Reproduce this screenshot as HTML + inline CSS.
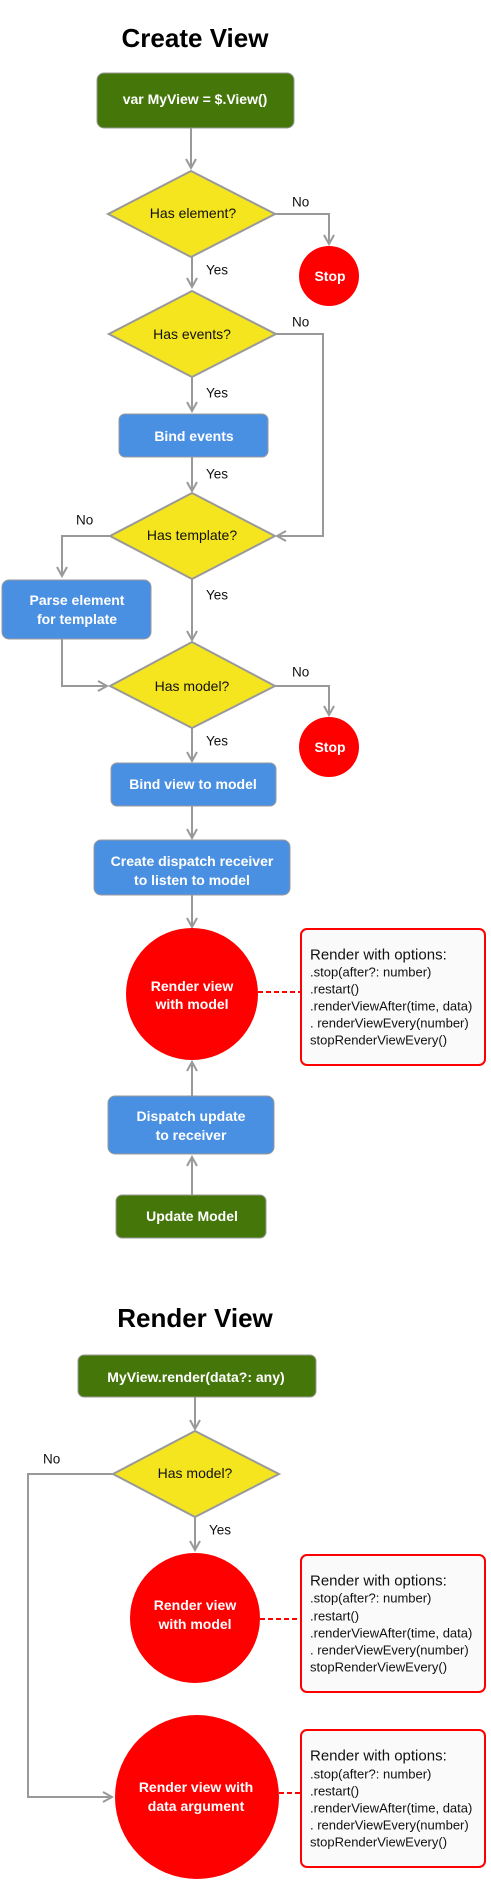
<!DOCTYPE html>
<html><head><meta charset="utf-8"><style>
html,body{margin:0;padding:0;background:#fff;}
svg{display:block;}
text{font-family:"Liberation Sans",sans-serif;}
.n{fill:#fff;font-weight:bold;font-size:14px;text-anchor:middle;dominant-baseline:central;}
.d{fill:#111;font-size:14px;text-anchor:middle;dominant-baseline:central;}
.l{fill:#111;font-size:13.5px;dominant-baseline:central;}
.t{fill:#000;font-weight:bold;font-size:26px;text-anchor:middle;dominant-baseline:central;}
.o{fill:#111;font-size:13px;dominant-baseline:central;}
.oh{fill:#111;font-size:15px;dominant-baseline:central;}
.c{fill:none;stroke:#999;stroke-width:2;}
.dash{stroke:#f00;stroke-width:2;stroke-dasharray:5,3;}
</style></head><body>
<svg width="491" height="1880" viewBox="0 0 491 1880" xmlns="http://www.w3.org/2000/svg">
<defs>
<marker id="a" markerWidth="12" markerHeight="12" refX="10" refY="6" orient="auto" markerUnits="userSpaceOnUse">
<path d="M1,1 L10,6 L1,11 M10,6 L3,6" fill="none" stroke="#999" stroke-width="2"/>
</marker>
</defs>

<text class="t" x="195" y="38">Create View</text>
<rect x="97" y="73" width="197" height="55" rx="7" fill="#45760a" stroke="#999"/>
<text class="n" x="195" y="99">var MyView = $.View()</text>
<line class="c" x1="191" y1="128" x2="191" y2="168" marker-end="url(#a)"/>

<polygon points="191,171 275,214 191,257 108,214" fill="#f5e51f" stroke="#999" stroke-width="2"/>
<text class="d" x="193" y="213">Has element?</text>
<text class="l" x="292" y="202">No</text>
<polyline class="c" points="275,214 329,214 329,244" marker-end="url(#a)"/>
<circle cx="329" cy="276" r="30" fill="#f00"/>
<text class="n" x="330" y="276">Stop</text>
<text class="l" x="206" y="270">Yes</text>
<line class="c" x1="192" y1="257" x2="192" y2="287" marker-end="url(#a)"/>

<polygon points="192,291 276,334 192,377 109,334" fill="#f5e51f" stroke="#999" stroke-width="2"/>
<text class="d" x="192" y="334">Has events?</text>
<text class="l" x="292" y="322">No</text>
<polyline class="c" points="276,334 323,334 323,536 277,536" marker-end="url(#a)"/>
<text class="l" x="206" y="393">Yes</text>
<line class="c" x1="192" y1="377" x2="192" y2="411" marker-end="url(#a)"/>
<rect x="119" y="414" width="149" height="43" rx="6" fill="#4a90e2" stroke="#999"/>
<text class="n" x="194" y="436">Bind events</text>
<text class="l" x="206" y="474">Yes</text>
<line class="c" x1="192" y1="457" x2="192" y2="491" marker-end="url(#a)"/>

<polygon points="192,493 275,536 192,579 110,536" fill="#f5e51f" stroke="#999" stroke-width="2"/>
<text class="d" x="192" y="535">Has template?</text>
<text class="l" x="76" y="520">No</text>
<polyline class="c" points="110,536 62,536 62,576" marker-end="url(#a)"/>
<rect x="2" y="580" width="149" height="59" rx="7" fill="#4a90e2" stroke="#999"/>
<text class="n" x="77" y="600">Parse element</text>
<text class="n" x="77" y="619">for template</text>
<text class="l" x="206" y="595">Yes</text>
<line class="c" x1="192" y1="579" x2="192" y2="640" marker-end="url(#a)"/>

<polygon points="192,642 275,686 192,728 110,686" fill="#f5e51f" stroke="#999" stroke-width="2"/>
<text class="d" x="192" y="686">Has model?</text>
<polyline class="c" points="62,639 62,686 107,686" marker-end="url(#a)"/>
<text class="l" x="292" y="672">No</text>
<polyline class="c" points="275,686 329,686 329,715" marker-end="url(#a)"/>
<circle cx="329" cy="747" r="30" fill="#f00"/>
<text class="n" x="330" y="747">Stop</text>
<text class="l" x="206" y="741">Yes</text>
<line class="c" x1="192" y1="728" x2="192" y2="761" marker-end="url(#a)"/>
<rect x="111" y="763" width="165" height="43" rx="6" fill="#4a90e2" stroke="#999"/>
<text class="n" x="193" y="784">Bind view to model</text>
<line class="c" x1="192" y1="806" x2="192" y2="838" marker-end="url(#a)"/>
<rect x="94" y="840" width="196" height="55" rx="7" fill="#4a90e2" stroke="#999"/>
<text class="n" x="192" y="861">Create dispatch receiver</text>
<text class="n" x="192" y="880">to listen to model</text>
<line class="c" x1="192" y1="895" x2="192" y2="927" marker-end="url(#a)"/>

<circle cx="192" cy="994" r="66" fill="#f00"/>
<text class="n" x="192" y="986">Render view</text>
<text class="n" x="192" y="1004">with model</text>
<line class="dash" x1="258" y1="992" x2="301" y2="992"/>
<rect x="301" y="929" width="184" height="136" rx="6" fill="#fafafa" stroke="#f00" stroke-width="2"/>
<text class="oh" x="310" y="955">Render with options:</text>
<text class="o" x="310" y="972">.stop(after?: number)</text>
<text class="o" x="310" y="989">.restart()</text>
<text class="o" x="310" y="1006">.renderViewAfter(time, data)</text>
<text class="o" x="310" y="1023">. renderViewEvery(number)</text>
<text class="o" x="310" y="1040">stopRenderViewEvery()</text>

<line class="c" x1="192" y1="1096" x2="192" y2="1062" marker-end="url(#a)"/>
<rect x="108" y="1096" width="166" height="58" rx="7" fill="#4a90e2" stroke="#999"/>
<text class="n" x="191" y="1116">Dispatch update</text>
<text class="n" x="191" y="1135">to receiver</text>
<line class="c" x1="192" y1="1195" x2="192" y2="1157" marker-end="url(#a)"/>
<rect x="116" y="1195" width="150" height="43" rx="6" fill="#45760a" stroke="#999"/>
<text class="n" x="192" y="1216">Update Model</text>

<text class="t" x="195" y="1318">Render View</text>
<rect x="78" y="1355" width="238" height="42" rx="6" fill="#45760a" stroke="#999"/>
<text class="n" x="196" y="1377">MyView.render(data?: any)</text>
<line class="c" x1="195" y1="1397" x2="195" y2="1429" marker-end="url(#a)"/>
<polygon points="195,1431 279,1474 195,1517 113,1474" fill="#f5e51f" stroke="#999" stroke-width="2"/>
<text class="d" x="195" y="1473">Has model?</text>
<text class="l" x="43" y="1459">No</text>
<polyline class="c" points="113,1474 28,1474 28,1797 112,1797" marker-end="url(#a)"/>
<text class="l" x="209" y="1530">Yes</text>
<line class="c" x1="195" y1="1517" x2="195" y2="1550" marker-end="url(#a)"/>

<ellipse cx="195" cy="1618" rx="65" ry="65" fill="#f00"/>
<text class="n" x="195" y="1605">Render view</text>
<text class="n" x="195" y="1624">with model</text>
<line class="dash" x1="260" y1="1619" x2="301" y2="1619"/>
<rect x="301" y="1555" width="184" height="137" rx="6" fill="#fafafa" stroke="#f00" stroke-width="2"/>
<text class="oh" x="310" y="1581">Render with options:</text>
<text class="o" x="310" y="1598">.stop(after?: number)</text>
<text class="o" x="310" y="1616">.restart()</text>
<text class="o" x="310" y="1633">.renderViewAfter(time, data)</text>
<text class="o" x="310" y="1650">. renderViewEvery(number)</text>
<text class="o" x="310" y="1667">stopRenderViewEvery()</text>

<circle cx="197" cy="1797" r="82" fill="#f00"/>
<text class="n" x="196" y="1787">Render view with</text>
<text class="n" x="196" y="1806">data argument</text>
<line class="dash" x1="279" y1="1793" x2="301" y2="1793"/>
<rect x="301" y="1730" width="184" height="137" rx="6" fill="#fafafa" stroke="#f00" stroke-width="2"/>
<text class="oh" x="310" y="1756">Render with options:</text>
<text class="o" x="310" y="1774">.stop(after?: number)</text>
<text class="o" x="310" y="1791">.restart()</text>
<text class="o" x="310" y="1808">.renderViewAfter(time, data)</text>
<text class="o" x="310" y="1825">. renderViewEvery(number)</text>
<text class="o" x="310" y="1842">stopRenderViewEvery()</text>
</svg>
</body></html>
